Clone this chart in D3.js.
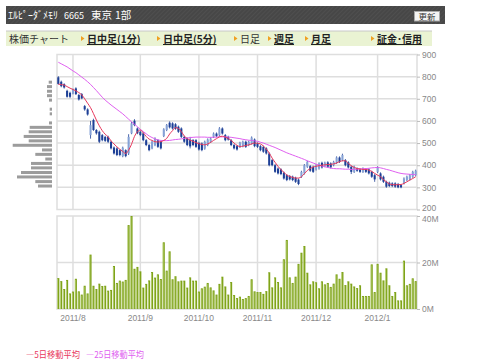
<!DOCTYPE html>
<html>
<head>
<meta charset="utf-8">
<script src="https://d3js.org/d3.v7.min.js"></script>
<style>
body{margin:0;background:#fff;}
svg{display:block;font-family:"Noto Sans CJK JP",sans-serif;}
.ax text{font-family:"Liberation Sans",Arial,sans-serif;font-size:8.5px;fill:#888;}
.ax line{stroke:#bbb;}
</style>
</head>
<body>
<svg id="c" width="480" height="363"></svg>
<script>
// trading days shown, per month
const tradingDays = [
  ['2011/7', [25,26,27,28,29]],
  ['2011/8', [1,2,3,4,5,8,9,10,11,12,15,16,17,18,19,22,23,24,25,26,29,30,31]],
  ['2011/9', [1,2,5,6,7,8,9,12,13,14,15,16,20,21,22,26,27,28,29,30]],
  ['2011/10', [3,4,5,6,7,11,12,13,14,17,18,19,20,21,24,25,26,27,28,31]],
  ['2011/11', [1,2,4,7,8,9,10,11,14,15,16,17,18,21,22,24,25,28,29,30]],
  ['2011/12', [1,2,5,6,7,8,9,12,13,14,15,16,19,20,21,22,26,27,28,29,30]],
  ['2012/1', [4,5,6,10,11,12,13,16,17,18,19,20,23,24]]
];
const monthLabels = ['2011/8','2011/9','2011/10','2011/11','2011/12','2012/1'];

const open  = [797,777,766,736,727,724,747,717,721,667,652,536,604,559,551,536,528,528,506,480,476,468,441,468,453,544,601,566,551,544,513,491,476,491,513,506,532,559,592,589,585,574,566,528,521,515,513,513,501,498,475,491,506,528,543,535,566,536,528,513,491,486,483,486,506,491,498,516,498,486,483,476,453,423,400,385,381,366,355,351,348,343,335,348,363,393,396,393,381,385,411,396,413,408,400,411,435,423,423,413,393,370,385,381,370,381,381,370,355,370,363,348,325,321,318,318,315,310,318,333,336,348,355];
const high  = [802,782,770,741,732,746,752,722,726,672,657,600,610,563,556,541,533,533,511,485,481,472,484,472,540,596,608,571,556,549,518,496,511,526,518,511,567,586,598,594,590,579,571,533,526,528,518,518,506,503,511,521,526,548,548,572,571,541,533,518,496,491,506,511,511,511,530,521,503,491,488,481,458,428,405,390,386,371,360,356,353,348,340,375,405,420,401,398,405,413,416,416,418,413,420,440,440,452,428,418,398,398,390,386,390,386,386,375,360,395,368,353,330,326,323,323,320,315,345,353,360,375,380];
const low   = [764,752,746,705,703,720,717,692,698,646,624,520,555,538,500,508,505,500,471,448,441,440,436,436,446,540,576,540,531,508,486,463,472,486,478,471,527,554,566,561,560,546,523,501,486,476,486,478,466,463,470,486,501,523,526,530,538,508,511,486,471,466,478,481,478,486,493,481,478,463,456,448,395,395,365,358,355,335,328,331,328,320,310,343,358,388,370,365,376,380,385,391,388,385,395,406,410,418,395,385,360,365,370,365,365,365,358,343,325,365,331,320,298,301,301,298,296,296,313,328,331,343,350];
const close = [767,757,751,709,709,742,721,697,702,652,629,581,559,544,506,513,510,506,476,453,446,446,479,441,528,589,581,544,536,513,491,468,506,521,483,476,562,581,571,566,565,551,528,506,491,485,491,483,471,468,506,516,521,543,531,566,543,513,516,491,476,471,501,506,483,506,525,486,483,468,461,453,400,400,370,363,360,340,333,336,333,325,315,370,400,415,375,370,400,408,390,411,393,390,415,435,415,446,400,390,370,393,375,370,385,370,363,348,336,390,336,325,303,306,306,303,300,300,340,348,355,370,375];

// 5-day and 25-day moving averages
const ma5  = [766,764,762,755,748,742,736,728,718,700,680,660,633,604,578,556,540,528,510,496,483,472,462,453,468,495,530,551,559,546,530,518,512,506,505,506,512,521,541,556,570,566,552,532,520,513,508,502,497,494,492,496,503,512,520,528,531,527,521,512,500,490,484,486,489,492,496,500,499,496,487,473,455,432,413,395,380,368,356,349,345,342,342,348,362,376,385,392,395,398,400,402,403,404,406,410,416,420,420,408,398,390,385,383,381,381,378,372,363,355,348,335,325,316,312,312,312,313,318,325,333,340,348];
const ma25 = [865,858,851,844,835,826,818,808,798,788,777,765,751,737,722,707,694,683,672,662,652,642,632,620,608,596,585,574,562,552,542,532,525,519,514,512,511,511,512,514,516,517,519,521,523,525,526,527,527,527,527,526,526,526,527,528,528,528,527,526,524,522,520,517,515,513,512,510,508,504,500,495,490,485,480,474,468,462,456,451,446,441,436,431,426,420,415,410,405,400,396,393,390,387,385,384,384,383,382,382,381,381,382,383,384,385,386,388,389,390,388,385,381,378,374,370,366,363,361,360,359,358,357];

// volume, millions of shares
const volume = [13.3,12.0,8.6,12.5,6.7,7.5,13.0,7.6,6.2,10.0,6.7,23.4,10.0,8.6,10.9,9.9,10.0,7.9,8.2,18.5,11.2,12.2,11.8,12.5,36.1,40.0,17.3,18.1,16.2,9.2,10.8,12.3,15.9,13.5,14.9,12.9,28.7,16.5,24.8,12.8,14.1,11.9,12.2,12.2,9.2,13.6,12.2,12.2,7.5,8.9,9.6,11.2,9.3,8.0,6.2,10.8,13.9,9.7,6.2,11.6,6.0,4.7,5.3,4.3,4.7,5.6,12.8,7.6,7.3,7.3,6.5,7.7,15.8,9.3,13.6,11.6,9.3,21.4,29.7,13.6,11.2,13.9,19.4,24.2,27.1,15.6,10.6,11.9,11.5,8.9,11.9,10.6,11.2,9.5,10.9,14.9,13.0,15.9,10.3,11.9,10.9,9.7,9.0,10.2,5.6,5.6,5.6,19.2,7.3,19.4,15.6,12.3,17.5,10.2,5.6,7.3,3.7,3.7,20.8,10.2,10.8,13.2,12.0];

// volume by price (price level, relative amount)
const vbpPrice = [775,755,734,714,694,653,632,591,571,551,530,510,490,469,449,428,408,388,367,347,326,306];
const vbpValue = [3.3,5,5,5,3,2.3,2.3,3,22.3,23.3,28.3,23.3,39.3,10,16.7,6.7,21,21,31,35,16.7,14];

const priceTicks = [200,300,400,500,600,700,800,900];
const volTicks = [0,20,40];

const svg = d3.select('#c');
const dates = tradingDays.flatMap(([m, ds]) => ds.map(d => m + '/' + d));
const monthStart = tradingDays.slice(1).map(([m, ds]) => m + '/' + ds[0]);

// ---- header ----
const defs = svg.append('defs');
const pat = defs.append('pattern').attr('id','hatch').attr('width',3).attr('height',3)
  .attr('patternUnits','userSpaceOnUse').attr('patternTransform','rotate(45)');
pat.append('rect').attr('width',3).attr('height',3).attr('fill','#474747');
pat.append('line').attr('x1',0).attr('y1',0).attr('x2',0).attr('y2',3).attr('stroke','#575757').attr('stroke-width',1);

svg.append('rect').attr('x',6).attr('y',6).attr('width',439).attr('height',18).attr('fill','url(#hatch)');
const head = svg.append('text').attr('x',8).attr('y',19).attr('fill','#fff').attr('font-size',10);
head.append('tspan').text('ｴﾙﾋﾟｰﾀﾞﾒﾓﾘ');
head.append('tspan').attr('x',64).attr('font-size',9).text('6665');
head.append('tspan').attr('x',91).attr('font-size',10.5).text('東京');
head.append('tspan').attr('x',115).attr('font-size',10.5).text('1部');
svg.append('rect').attr('x',414.5).attr('y',11.5).attr('width',25).attr('height',9.5).attr('fill','#f4f4f4').attr('stroke','#aaa');
svg.append('text').attr('x',427).attr('y',19.5).attr('text-anchor','middle').attr('font-size',8.5).attr('fill','#333').text('更新');

// ---- nav bar ----
svg.append('rect').attr('x',6).attr('y',31).attr('width',426).attr('height',15).attr('fill','#eaf3d3');
svg.append('line').attr('x1',6).attr('x2',432).attr('y1',31).attr('y2',31).attr('stroke','#c8c8c8');
const navItems = [
  {t:'株価チャート', x:9, link:false, tri:false},
  {t:'日中足(1分)', x:87, link:true, tri:true},
  {t:'日中足(5分)', x:163, link:true, tri:true},
  {t:'日足', x:240, link:false, tri:true},
  {t:'週足', x:274, link:true, tri:true},
  {t:'月足', x:311, link:true, tri:true},
  {t:'証金･信用', x:377, link:true, tri:true}
];
navItems.forEach(n => {
  const t = svg.append('text').attr('x',n.x).attr('y',42.5).attr('font-size',10)
    .attr('fill', n.link ? '#222' : '#333').attr('font-weight', n.link ? 'bold' : 'normal').text(n.t);
  if (n.tri) svg.append('path').attr('d',`M${n.x-6},36 L${n.x-2.5},38.5 L${n.x-6},41 Z`).attr('fill','#f0a020');
  if (n.link) {
    const w = t.node().getComputedTextLength();
    svg.append('line').attr('x1',n.x).attr('x2',n.x+w).attr('y1',44.5).attr('y2',44.5).attr('stroke','#222').attr('stroke-width',1);
  }
});

// ---- scales ----
const x = d3.scaleBand().domain(dates).range([57,417]).paddingInner(0.3).paddingOuter(0.1);
const xc = d => x(d) + x.bandwidth()/2;
const y = d3.scaleLinear().domain([200,900]).range([209.5,54.5]);
const yv = d3.scaleLinear().domain([0,40]).range([309,216]);
const xh = d3.scaleLinear().domain([0,40]).range([52,12]);

const grid = '#dedede';
// price panel
const pg = svg.append('g');
pg.selectAll('line.h').data(priceTicks.slice(1,-1)).enter().append('line')
  .attr('x1',57).attr('x2',417).attr('y1',d=>y(d)).attr('y2',d=>y(d)).attr('stroke',grid).attr('stroke-width',1.5);
pg.selectAll('line.v').data(monthStart).enter().append('line')
  .attr('x1',d=>xc(d)).attr('x2',d=>xc(d)).attr('y1',y(900)).attr('y2',y(200)).attr('stroke',grid).attr('stroke-width',1.5);
pg.append('rect').attr('x',57).attr('y',y(900)).attr('width',360).attr('height',y(200)-y(900))
  .attr('fill','none').attr('stroke',grid).attr('stroke-width',1.5);

// volume panel
const vg = svg.append('g');
vg.append('line').attr('x1',57).attr('x2',417).attr('y1',yv(20)).attr('y2',yv(20)).attr('stroke',grid).attr('stroke-width',1.5);
vg.selectAll('line.v').data(monthStart).enter().append('line')
  .attr('x1',d=>xc(d)).attr('x2',d=>xc(d)).attr('y1',yv(40)).attr('y2',yv(0)).attr('stroke',grid).attr('stroke-width',1.5);
vg.append('rect').attr('x',57).attr('y',yv(40)).attr('width',360).attr('height',yv(0)-yv(40))
  .attr('fill','none').attr('stroke',grid).attr('stroke-width',1.5);

// volume by price
svg.selectAll('rect.vbp').data(vbpPrice).enter().append('rect')
  .attr('x',(d,i)=>xh(vbpValue[i])).attr('width',(d,i)=>xh(0)-xh(vbpValue[i]))
  .attr('y',d=>y(d)-1.5).attr('height',3).attr('fill','#9c9c9c');

// volume bars
vg.selectAll('rect.vol').data(dates).enter().append('rect')
  .attr('x',d=>x(d)).attr('width',x.bandwidth())
  .attr('y',(d,i)=>yv(volume[i])).attr('height',(d,i)=>yv(0)-yv(volume[i])).attr('fill','#7fa31a');
vg.selectAll('rect.volhi').data(dates).enter().append('rect')
  .attr('x',d=>x(d)).attr('width',0.7)
  .attr('y',(d,i)=>yv(volume[i])+1).attr('height',(d,i)=>Math.max(0,yv(0)-yv(volume[i])-1)).attr('fill','#c4d98a');

// candles
const cg = svg.append('g');
cg.selectAll('line.w').data(dates).enter().append('line')
  .attr('x1',d=>xc(d)).attr('x2',d=>xc(d)).attr('y1',(d,i)=>y(high[i])).attr('y2',(d,i)=>y(low[i]))
  .attr('stroke','#1d3f96').attr('stroke-width',0.8);
cg.selectAll('rect.c').data(dates).enter().append('rect')
  .attr('x',d=>x(d)).attr('width',x.bandwidth())
  .attr('y',(d,i)=>y(Math.max(open[i],close[i])))
  .attr('height',(d,i)=>Math.max(1,Math.abs(y(open[i])-y(close[i]))))
  .attr('fill',(d,i)=>close[i]>open[i] ? '#86a2d6' : '#1d3f96');

// moving averages
const line = arr => d3.line().x((d,i)=>xc(dates[i])).y(d=>y(d)).curve(d3.curveMonotoneX)(arr);
svg.append('path').attr('d',line(ma25)).attr('fill','none').attr('stroke','#e060f0').attr('stroke-width',1);
svg.append('path').attr('d',line(ma5)).attr('fill','none').attr('stroke','#e8385c').attr('stroke-width',1);

// axes
svg.append('g').attr('class','ax').attr('transform','translate(417,0)')
  .call(d3.axisRight(y).tickValues(priceTicks).tickSize(3).tickPadding(2))
  .call(g=>g.select('.domain').remove())
  .call(g=>g.selectAll('.tick text').filter(d=>d===200).attr('dy','0.1em'));
svg.append('g').attr('class','ax').attr('transform','translate(417,0)')
  .call(d3.axisRight(yv).tickValues(volTicks).tickSize(3).tickPadding(2).tickFormat(d=>d+'M'))
  .call(g=>g.select('.domain').remove())
  .call(g=>g.selectAll('.tick text').filter(d=>d===40).attr('dy','0.62em'));
svg.append('g').attr('class','ax').attr('transform','translate(0,309)')
  .call(d3.axisBottom(x).tickValues(monthStart).tickSize(0).tickPadding(6)
    .tickFormat(d=>monthLabels[monthStart.indexOf(d)]))
  .call(g=>g.select('.domain').remove());

// legend
svg.append('text').attr('x',26).attr('y',358).attr('font-size',9).attr('fill','#e8385c')
  .attr('textLength',54).attr('lengthAdjust','spacingAndGlyphs').text('―5日移動平均');
svg.append('text').attr('x',86).attr('y',358).attr('font-size',9).attr('fill','#e060f0')
  .attr('textLength',58).attr('lengthAdjust','spacingAndGlyphs').text('―25日移動平均');
</script>
</body>
</html>
